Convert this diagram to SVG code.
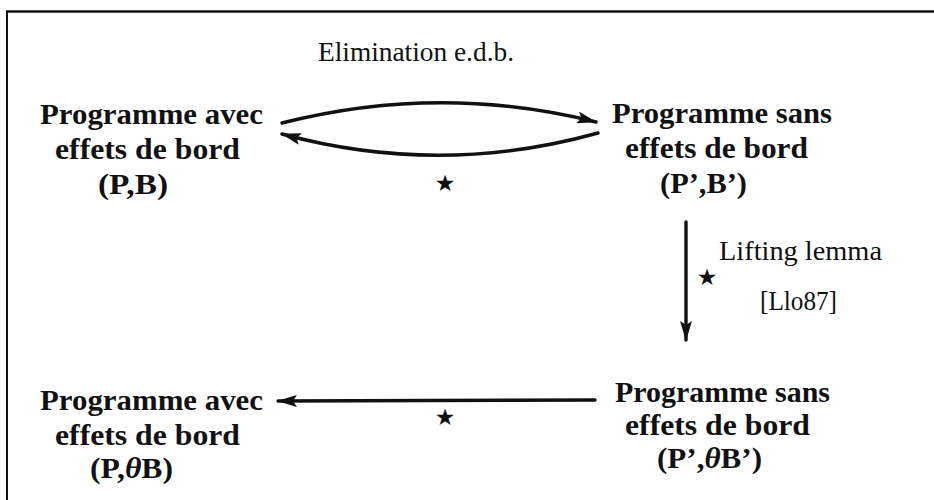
<svg xmlns="http://www.w3.org/2000/svg" width="934" height="500" viewBox="0 0 934 500">
<style>
.n{font-family:"Liberation Serif","Times New Roman",serif;font-weight:bold;font-size:29px;fill:#111}
.l{font-family:"Liberation Serif","Times New Roman",serif;font-size:27px;fill:#111}
.s{font-family:"DejaVu Sans",sans-serif;font-size:23px;fill:#111}
.e{fill:none;stroke:#111;stroke-width:3.4;stroke-linecap:round}
.th{font-style:italic}
</style>
<defs>
<marker id="ah" viewBox="0 0 20 12" refX="19" refY="6" markerWidth="20" markerHeight="12" markerUnits="userSpaceOnUse" orient="auto">
<path d="M0,0 L20,6 L0,12 L4,6 Z" fill="#111"/>
</marker>
</defs>
<rect width="934" height="500" fill="#fff"/>
<g id="frame">
<line x1="6" y1="11.5" x2="934" y2="11.5" stroke="#111" stroke-width="2.5"/>
<line x1="7" y1="11" x2="7" y2="500" stroke="#111" stroke-width="2"/>
</g>
<g id="connectors">
<path class="e" d="M282,123 Q440,83 596,122" marker-end="url(#ah)"/>
<path class="e" d="M598,133 Q440,177 282,134" marker-end="url(#ah)"/>
<path class="e" d="M686,222 L686,340" marker-end="url(#ah)"/>
<path class="e" d="M595,400 L278,401" marker-end="url(#ah)"/>
<text class="l" x="318" y="61" textLength="196" lengthAdjust="spacingAndGlyphs">Elimination e.d.b.</text>
<text class="s" x="445" y="191" text-anchor="middle">★</text>
<text class="s" x="707" y="285" text-anchor="middle">★</text>
<text class="l" x="719" y="260" textLength="163" lengthAdjust="spacingAndGlyphs">Lifting lemma</text>
<text class="l" x="760" y="310" textLength="77" lengthAdjust="spacingAndGlyphs">[Llo87]</text>
<text class="s" x="445" y="425" text-anchor="middle">★</text>
</g>
<g id="n1">
<text class="n" x="40" y="124" textLength="223" lengthAdjust="spacingAndGlyphs">Programme avec</text>
<text class="n" x="55" y="159" textLength="185" lengthAdjust="spacingAndGlyphs">effets de bord</text>
<text class="n" x="98" y="194" textLength="70" lengthAdjust="spacingAndGlyphs">(P,B)</text>
</g>
<g id="n2">
<text class="n" x="612" y="123" textLength="220" lengthAdjust="spacingAndGlyphs">Programme sans</text>
<text class="n" x="625" y="158" textLength="183" lengthAdjust="spacingAndGlyphs">effets de bord</text>
<text class="n" x="660" y="193" textLength="87" lengthAdjust="spacingAndGlyphs">(P’,B’)</text>
</g>
<g id="n3">
<text class="n" x="40" y="410" textLength="223" lengthAdjust="spacingAndGlyphs">Programme avec</text>
<text class="n" x="55" y="445" textLength="185" lengthAdjust="spacingAndGlyphs">effets de bord</text>
<text class="n" x="90" y="478" textLength="83" lengthAdjust="spacingAndGlyphs">(P,<tspan class="th">θ</tspan>B)</text>
</g>
<g id="n4">
<text class="n" x="615" y="402" textLength="215" lengthAdjust="spacingAndGlyphs">Programme sans</text>
<text class="n" x="625" y="435" textLength="185" lengthAdjust="spacingAndGlyphs">effets de bord</text>
<text class="n" x="657" y="468" textLength="105" lengthAdjust="spacingAndGlyphs">(P’,<tspan class="th">θ</tspan>B’)</text>
</g>
</svg>
